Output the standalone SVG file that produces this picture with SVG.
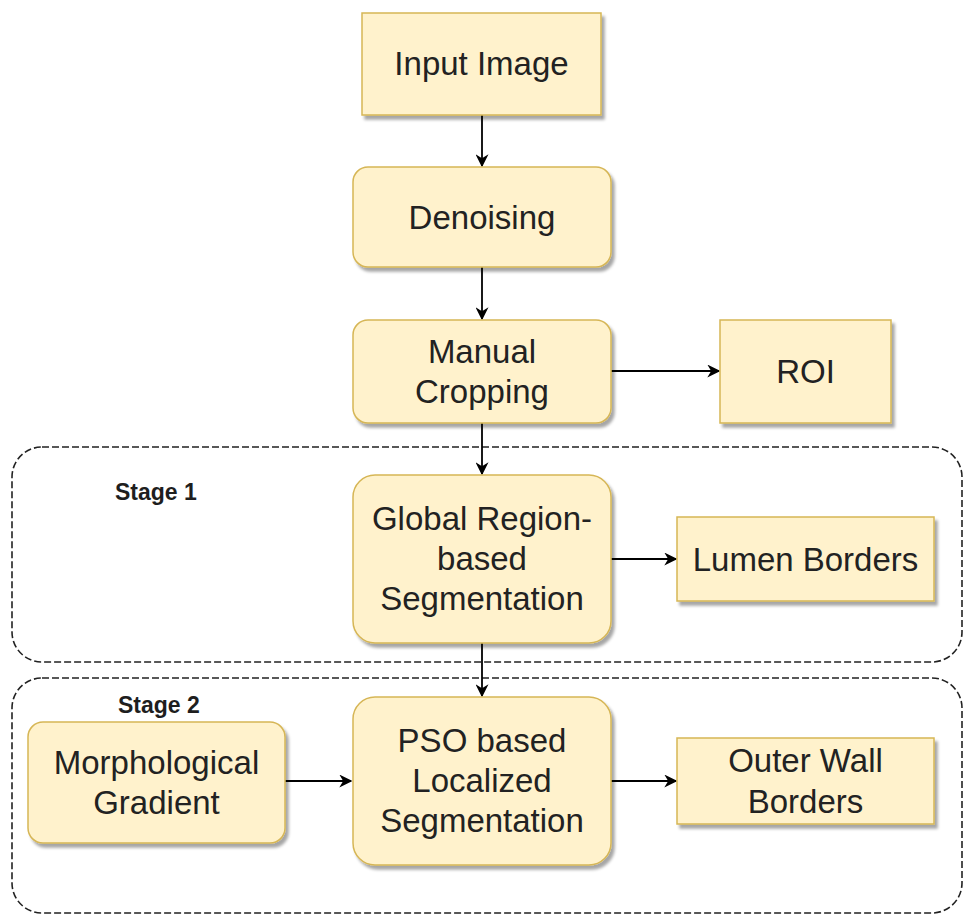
<svg xmlns="http://www.w3.org/2000/svg" width="964" height="916" viewBox="0 0 964 916">
<style>
.box{fill:#fff2cc;stroke:#d6b656;stroke-width:1.5;filter:url(#sh)}
.t{font-family:"Liberation Sans",Arial,sans-serif;font-size:33px;fill:#222;text-anchor:middle}
.st{font-family:"Liberation Sans",Arial,sans-serif;font-size:23px;font-weight:bold;fill:#1e1e1e}
.stage{fill:none;stroke:#222;stroke-width:1.6;stroke-dasharray:7 3}
.c{fill:none;stroke:#000;stroke-width:1.8;marker-end:url(#ah)}
</style>
<defs>
<filter id="sh" x="-10%" y="-10%" width="130%" height="130%">
<feDropShadow dx="3" dy="4" stdDeviation="1.5" flood-color="#000" flood-opacity="0.35"/>
</filter>
<marker id="ah" viewBox="0 0 10 10" refX="9" refY="5" markerWidth="13" markerHeight="13" markerUnits="userSpaceOnUse" orient="auto">
<path d="M0,0 L10,5 L0,10 L3,5 z" fill="#000"/>
</marker>
</defs>
<rect width="964" height="916" fill="#fff"/>
<g id="stage1">
<rect class="stage" x="12" y="447" width="950" height="215" rx="30"/>
<text class="st" x="115" y="500">Stage 1</text>
</g>
<g id="stage2">
<rect class="stage" x="12" y="678" width="950" height="235" rx="30"/>
<text class="st" x="118" y="713">Stage 2</text>
</g>
<g id="connectors">
<line class="c" x1="482" y1="115" x2="482" y2="166"/>
<line class="c" x1="482" y1="267" x2="482" y2="319"/>
<line class="c" x1="611" y1="371" x2="719" y2="371"/>
<line class="c" x1="482" y1="423" x2="482" y2="474"/>
<line class="c" x1="611" y1="559" x2="676" y2="559"/>
<line class="c" x1="482" y1="643" x2="482" y2="696"/>
<line class="c" x1="285" y1="781" x2="351" y2="781"/>
<line class="c" x1="611" y1="781" x2="676" y2="781"/>
</g>
<g id="input-image">
<rect class="box" x="362" y="13" width="239" height="102"/>
<text class="t" x="481.5" y="75">Input Image</text>
</g>
<g id="denoising">
<rect class="box" x="353" y="167" width="258" height="100" rx="15"/>
<text class="t" x="482" y="229">Denoising</text>
</g>
<g id="manual-cropping">
<rect class="box" x="353" y="320" width="258" height="103" rx="15"/>
<text class="t" x="482" y="363">Manual</text>
<text class="t" x="482" y="403">Cropping</text>
</g>
<g id="roi">
<rect class="box" x="720" y="320" width="171" height="103"/>
<text class="t" x="805.5" y="383">ROI</text>
</g>
<g id="global-seg">
<rect class="box" x="353" y="475" width="258" height="168" rx="22"/>
<text class="t" x="482" y="530">Global Region-</text>
<text class="t" x="482" y="570">based</text>
<text class="t" x="482" y="610">Segmentation</text>
</g>
<g id="lumen-borders">
<rect class="box" x="677" y="517" width="257" height="84"/>
<text class="t" x="805.5" y="571">Lumen Borders</text>
</g>
<g id="morph-gradient">
<rect class="box" x="28" y="722" width="257" height="121" rx="15"/>
<text class="t" x="156.5" y="774">Morphological</text>
<text class="t" x="156.5" y="814">Gradient</text>
</g>
<g id="pso-seg">
<rect class="box" x="353" y="697" width="258" height="168" rx="22"/>
<text class="t" x="482" y="752">PSO based</text>
<text class="t" x="482" y="792">Localized</text>
<text class="t" x="482" y="832">Segmentation</text>
</g>
<g id="outer-wall">
<rect class="box" x="677" y="738" width="257" height="86"/>
<text class="t" x="805.5" y="772">Outer Wall</text>
<text class="t" x="805.5" y="813">Borders</text>
</g>
</svg>
